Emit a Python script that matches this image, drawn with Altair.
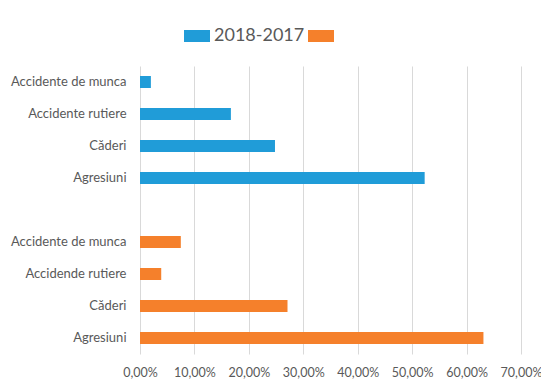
import altair as alt
import pandas as pd

series_names = ["2018-2017", "2017-2016"]
categories_a = ["Accidente de munca", "Accidente rutiere", "Căderi", "Agresiuni"]
values_a = [0.020, 0.167, 0.248, 0.523]
categories_b = ["Accidente de munca", "Accidende rutiere", "Căderi", "Agresiuni"]
values_b = [0.075, 0.039, 0.271, 0.631]
x_ticks = [0.0, 0.1, 0.2, 0.3, 0.4, 0.5, 0.6, 0.7]
colors = ["#209cd8", "#f5802b"]

rows = []
for c, v in zip(categories_a, values_a):
    rows.append({"key": "A|" + c, "value": v, "series": series_names[0]})
for c, v in zip(categories_b, values_b):
    rows.append({"key": "B|" + c, "value": v, "series": series_names[1]})
df = pd.DataFrame(rows)

y_domain = ["A|" + c for c in categories_a] + ["G|"] + ["B|" + c for c in categories_b]

FONT = "Lato"
GRAY = "#595959"

chart = alt.Chart(df).mark_bar(size=12).encode(
    x=alt.X("value:Q",
            scale=alt.Scale(domain=[0, 0.7], nice=False, zero=True),
            axis=alt.Axis(values=x_ticks, title=None, grid=True, gridColor="#d9d9d9",
                          gridWidth=1, domain=False, ticks=False, labelPadding=12,
                          labelOverlap=False, labelFlush=False,
                          labelFont=FONT, labelFontSize=12.5, labelColor=GRAY,
                          labelExpr="replace(format(datum.value, '.2%'), '.', ',')")),
    y=alt.Y("key:N",
            scale=alt.Scale(domain=y_domain, paddingInner=0.0, paddingOuter=0.0),
            axis=alt.Axis(title=None, domain=False, ticks=False, grid=False, labelPadding=14,
                          labelFont=FONT, labelFontSize=13, labelColor=GRAY,
                          labelExpr="split(datum.label, '|')[1]")),
    color=alt.Color("series:N",
                    scale=alt.Scale(domain=series_names, range=colors),
                    legend=alt.Legend(title=None, orient="none", direction="horizontal",
                                      legendX=44, legendY=-43,
                                      symbolType="M-1,-0.46H1V0.46H-1Z", symbolSize=676,
                                      symbolStrokeWidth=0, symbolOpacity=1,
                                      labelFont=FONT, labelFontSize=18, labelColor=GRAY,
                                      labelOffset=4, columnPadding=3,
                                      labelExpr="datum.label == '2018-2017' ? datum.label : ''")),
).properties(
    width=381, height=288,
    autosize=alt.AutoSizeParams(type="none"),
    padding={"left": 132, "top": 58, "right": 20, "bottom": 25},
).configure(background="white").configure_view(stroke=None)

chart.save("out.html", embed_options={"renderer": "svg", "actions": False})
